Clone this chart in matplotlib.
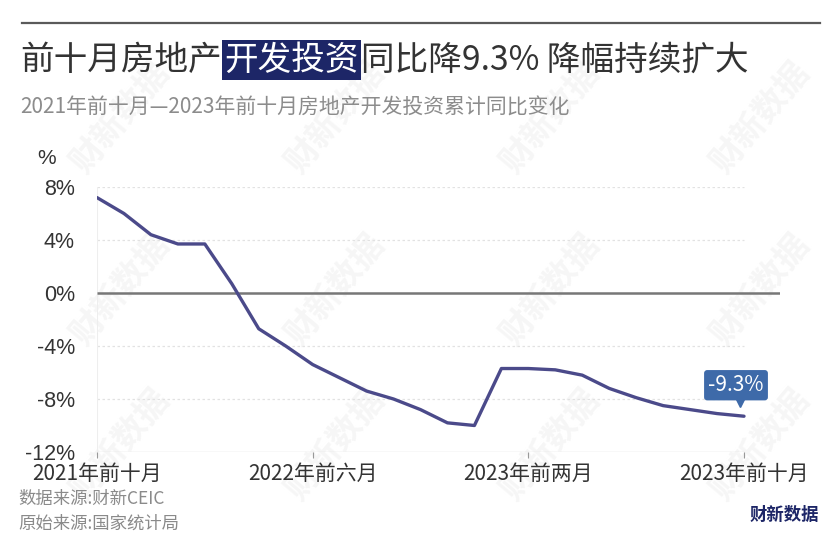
import matplotlib
matplotlib.use("Agg")
import matplotlib.pyplot as plt

CJK = ["Noto Sans CJK SC", "DejaVu Sans"]
LAT = ["Liberation Sans", "DejaVu Sans"]

# ---------------- data ----------------
months = ["2021年前十月", "2021年前十一月", "2021年全年",
          "2022年一月", "2022年前两月", "2022年前三月", "2022年前四月", "2022年前五月",
          "2022年前六月", "2022年前七月", "2022年前八月", "2022年前九月", "2022年前十月",
          "2022年前十一月", "2022年全年",
          "2023年一月", "2023年前两月", "2023年前三月", "2023年前四月", "2023年前五月",
          "2023年前六月", "2023年前七月", "2023年前八月", "2023年前九月", "2023年前十月"]
values = [7.2, 6.0, 4.4,
          3.7, 3.7, 0.7, -2.7, -4.0, -5.4, -6.4, -7.4, -8.0, -8.8, -9.8, -10.0,
          -5.7, -5.7, -5.8, -6.2, -7.2, -7.9, -8.5, -8.8, -9.1, -9.3]
xtick_labels = ["2021年前十月", "2022年前六月", "2023年前两月", "2023年前十月"]
yticks = [8, 4, 0, -4, -8, -12]
ytick_labels = ["8%", "4%", "0%", "-4%", "-8%", "-12%"]
title_parts = ["前十月房地产", "开发投资", "同比降9.3% 降幅持续扩大"]
subtitle = "2021年前十月—2023年前十月房地产开发投资累计同比变化"
sources = ["数据来源:财新CEIC", "原始来源:国家统计局"]
last_label = "-9.3%"

W, H = 840, 560
fig = plt.figure(figsize=(W / 100, H / 100), dpi=100)
fig.patch.set_facecolor("white")

# watermarks
for wy in [118, 290, 445]:
    for wx in [120, 335, 550, 760]:
        fig.text(wx / W, 1 - wy / H, "财新数据", family=CJK, fontsize=24, weight="bold",
                 color="#f6f6f6", rotation=50, ha="center", va="center", zorder=-5)

# top rule
fig.add_artist(plt.Line2D([22 / W, 820 / W], [1 - 23 / H, 1 - 23 / H], color="#5a5a5a", lw=1.6))

# title
fig.canvas.draw()
r = fig.canvas.get_renderer()
ty = 1 - 60 / H
x = 20 / W
colors = ["#333333", "white", "#333333"]
for i, part in enumerate(title_parts):
    kw = {}
    if i == 1:
        kw["bbox"] = dict(boxstyle="square,pad=0.06", fc="#1d2667", ec="none")
    t = fig.text(x, ty, part, family=CJK, fontsize=24.2, color=colors[i], ha="left", va="center", **kw)
    bb = t.get_window_extent(renderer=r)
    x = bb.x1 / W + (0.003 if i == 1 else 0)
    if i == 0:
        x += 0.003

fig.text(20 / W, 1 - 108 / H, subtitle, family=CJK, fontsize=15, color="#8c8c8c", ha="left", va="center")

# axes
x0, x24, xr = 97, 744, 780
ax = fig.add_axes([x0 / W, 108 / H, (xr - x0) / W, (452 - 187) / H])
ax.patch.set_visible(False)
n = len(values)
xs = list(range(n))
unit = (x24 - x0) / (n - 1)
ax.set_xlim(0, (xr - x0) / unit)
ax.set_ylim(-12, 8)

for v in [8, 4, -4, -8]:
    ax.hlines(v, 0, n - 1, colors="#e2e2e2", lw=0.9, linestyles=(0, (2, 2)), zorder=1)
ax.hlines(0, 0, (xr - x0) / unit, colors="#777777", lw=1.8, zorder=2)
ax.hlines(-12, 0, n - 1, colors="#e0e0e0", lw=1.0, zorder=1)
ax.vlines(0, -12, 8, colors="#eeeeee", lw=0.8, zorder=1)

ax.plot(xs, values, color="#4b4a8a", lw=2.4, solid_joinstyle="round", solid_capstyle="round", zorder=4)

for s in ax.spines.values():
    s.set_visible(False)

tick_pos = [months.index(m) for m in xtick_labels]
ax.set_xticks(tick_pos)
ax.set_xticklabels(xtick_labels, family=CJK, fontsize=15, color="#333333")
ax.tick_params(axis="x", length=4, width=0.8, color="#999999", pad=4)
ax.set_yticks(yticks)
ax.set_yticklabels(ytick_labels, family=LAT, fontsize=15.5, color="#333333")
ax.tick_params(axis="y", length=0, pad=16)
ax.get_yticklabels()[-1].set_y(-11.6)

fig.text(47 / W, 1 - 158 / H, "%", family=LAT, fontsize=15, color="#333333", ha="center", va="center")

# last value label
ax.annotate(last_label, xy=(n - 1, values[-1]), xytext=(-8, 31), textcoords="offset pixels",
            ha="center", va="center", family=CJK, fontsize=15, color="white", zorder=6,
            bbox=dict(boxstyle="round,pad=0.2,rounding_size=0.15", fc="#3e6aa9", ec="none"))
ax.plot([n - 1], [values[-1]], marker="v", markersize=7, color="#3e6aa9", ls="none",
        transform=ax.transData + matplotlib.transforms.ScaledTranslation(-4 / 100, 14 / 100, fig.dpi_scale_trans),
        zorder=6)

# sources
fig.text(18 / W, 1 - 499 / H, sources[0], family=CJK, fontsize=12.5, color="#8a8a8a", ha="left", va="center")
fig.text(18 / W, 1 - 524 / H, sources[1], family=CJK, fontsize=12.5, color="#8a8a8a", ha="left", va="center")
fig.text(784 / W, 1 - 515 / H, "财新数据", family=CJK, fontsize=12.5, weight="bold", color="#1d2667",
         ha="center", va="center")

fig.savefig("out.png", dpi=100, facecolor="white")
